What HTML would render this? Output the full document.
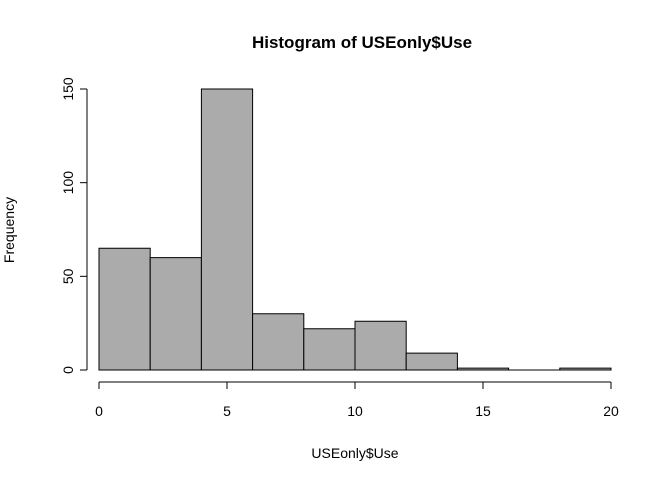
<!DOCTYPE html>
<html><head><meta charset="utf-8"><style>
body{margin:0;background:#fff;}
svg text{font-family:"Liberation Sans",Arial,sans-serif;fill:#000;}
</style></head><body>
<svg id="chart" width="672" height="480" xmlns="http://www.w3.org/2000/svg">
<text x="362" y="48" text-anchor="middle" font-size="17" font-weight="bold">Histogram of USEonly$Use</text>
<text x="355" y="458" text-anchor="middle" font-size="14">USEonly$Use</text>
<text x="0" y="0" transform="translate(14,230) rotate(-90)" text-anchor="middle" font-size="14">Frequency</text>
<g id="bars"></g><g id="xaxis"></g><g id="yaxis"></g>
</svg>
<script>
const binEdges=[0,2,4,6,8,10,12,14,16,18,20];
const counts=[65,60,150,30,22,26,9,1,0,1];
const xTicks=[0,5,10,15,20];
const yTicks=[0,50,100,150];
const NS='http://www.w3.org/2000/svg';
const sx=v=>99+v*(611-99)/20;
const sy=v=>370-v*(370-89)/150;
function mk(tag,attrs,parent){const e=document.createElementNS(NS,tag);for(const k in attrs)e.setAttribute(k,attrs[k]);parent.appendChild(e);return e;}
const bars=document.getElementById('bars');
counts.forEach((c,i)=>{
  const x0=sx(binEdges[i]),x1=sx(binEdges[i+1]),y0=sy(0),y1=sy(c);
  const r=mk('path',{d:`M${x0},${y0}L${x0},${y1}L${x1},${y1}L${x1},${y0}Z`,fill:'#ababab',stroke:'#000','stroke-width':1},bars);
  
  
});
const xa=document.getElementById('xaxis');
const xl=mk('line',{x1:sx(xTicks[0]),x2:sx(xTicks[xTicks.length-1]),y1:382,y2:382,stroke:'#000'},xa);


xTicks.forEach(t=>{
  mk('line',{x1:sx(t),x2:sx(t),y1:382,y2:389,stroke:'#000'},xa);
  const tx=mk('text',{x:sx(t),y:416,'text-anchor':'middle','font-size':14},xa);
  tx.textContent=t;
  
  
});
const ya=document.getElementById('yaxis');
const yl=mk('line',{x1:87,x2:87,y1:sy(yTicks[0]),y2:sy(yTicks[yTicks.length-1]),stroke:'#000'},ya);


yTicks.forEach(t=>{
  mk('line',{x1:80,x2:87,y1:sy(t),y2:sy(t),stroke:'#000'},ya);
  const tx=mk('text',{x:0,y:0,transform:'translate(73,'+sy(t)+') rotate(-90)','text-anchor':'middle','font-size':14},ya);
  tx.textContent=t;
  
  
});
</script>
</body></html>
